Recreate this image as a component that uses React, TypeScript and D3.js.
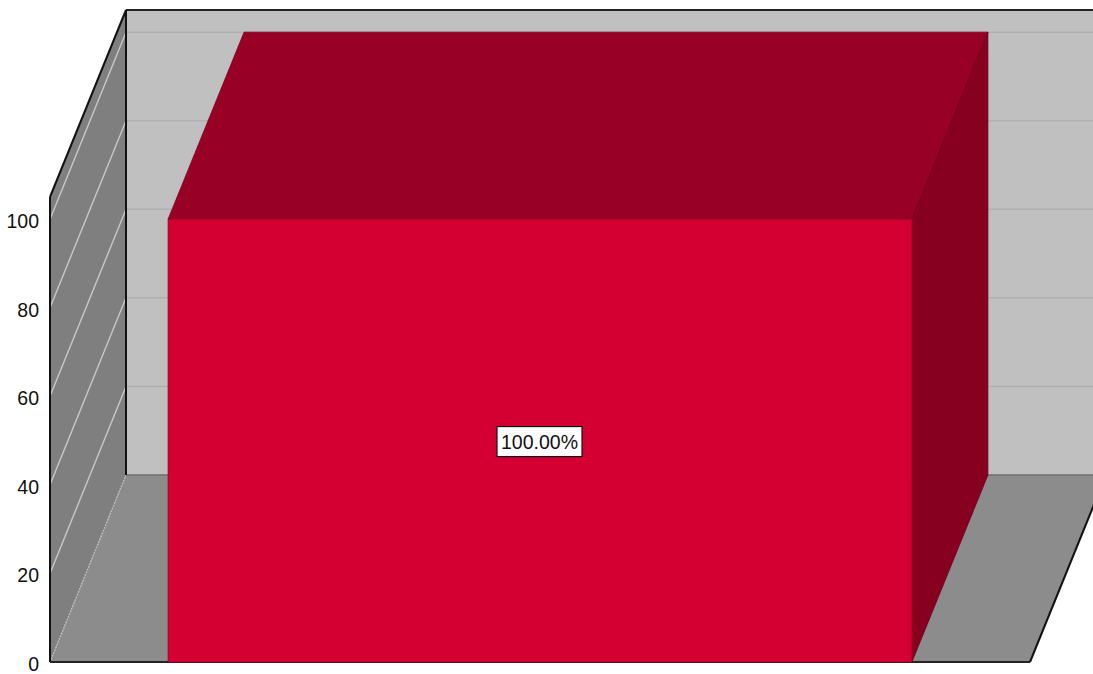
import React from "react";
import * as d3 from "d3";

const categories: string[] = ["A"];
const values: number[] = [100];
const labels: string[] = ["100.00%"];
const yTicks: number[] = [0, 20, 40, 60, 80, 100];

const W = 1093;
const H = 674;

export default function App() {
  const x0 = 50, x1 = 1030;
  const yBottom = 662, yTop = 197;
  const dx = 76, dy = -187;
  const y = d3.scaleLinear().domain([0, 105]).range([yBottom, yTop]);
  const x = d3.scaleBand<string>().domain(categories).range([x0, x1]).paddingInner(0.137).paddingOuter(0.137);
  const pts = (arr: number[][]) => arr.map((p) => p.join(",")).join(" ");

  return (
    <svg width={W} height={H} style={{ position: "absolute", left: 0, top: 0, background: "#fff" }} fontFamily="'Liberation Sans', Arial, sans-serif">
      {/* back wall */}
      <rect x={x0 + dx} y={yTop + dy} width={x1 - x0 + 10} height={yBottom - yTop} fill="#c0c0c0" />
      {yTicks.slice(1).map((t) => (
        <line key={"bg" + t} x1={x0 + dx} x2={x1 + dx + 10} y1={y(t) + dy} y2={y(t) + dy} stroke="#b0b0b0" strokeWidth={1.5} />
      ))}
      {/* left wall */}
      <polygon points={pts([[x0, yTop], [x0 + dx, yTop + dy], [x0 + dx, yBottom + dy], [x0, yBottom]])} fill="#7f7f7f" />
      {yTicks.slice(1).map((t) => (
        <line key={"lw" + t} x1={x0} y1={y(t)} x2={x0 + dx} y2={y(t) + dy} stroke="#c8c8c8" strokeWidth={1.4} />
      ))}
      {/* floor */}
      <polygon points={pts([[x0, yBottom], [x0 + dx, yBottom + dy], [x1 + dx, yBottom + dy], [x1, yBottom]])} fill="#8c8c8c" />
      <line x1={x0} y1={yBottom} x2={x0 + dx} y2={yBottom + dy} stroke="#bdbdbd" strokeWidth={1.5} strokeDasharray="1.5,1.5" />
      <line x1={x0 + dx} y1={yBottom + dy} x2={x1 + dx + 10} y2={yBottom + dy} stroke="#6e6e6e" strokeWidth={1.5} />
      {/* outlines */}
      <line x1={x0 + dx} y1={yTop + dy} x2={x1 + dx + 10} y2={yTop + dy} stroke="#222" strokeWidth={2} />
      <line x1={x0 + dx} y1={yTop + dy} x2={x0 + dx} y2={yBottom + dy} stroke="#111" strokeWidth={2} />
      <line x1={x0} y1={yTop} x2={x0 + dx} y2={yTop + dy} stroke="#111" strokeWidth={2} />
      <line x1={x0} y1={yTop} x2={x0} y2={yBottom} stroke="#111" strokeWidth={2} />
      <line x1={x0} y1={yBottom} x2={x1} y2={yBottom} stroke="#222" strokeWidth={2} />
      <line x1={x1} y1={yBottom} x2={x1 + dx} y2={yBottom + dy} stroke="#111" strokeWidth={2} />
      {/* bars */}
      {categories.map((c, i) => {
        const bx = x(c)!;
        const bw = x.bandwidth();
        const top = y(values[i]);
        const bot = y(0);
        return (
          <g key={c}>
            <polygon points={pts([[bx, top], [bx + dx, top + dy], [bx + bw + dx, top + dy], [bx + bw, top]])} fill="#990026" stroke="#7a001c" strokeWidth={0.8} />
            <polygon points={pts([[bx + bw, top], [bx + bw + dx, top + dy], [bx + bw + dx, bot + dy], [bx + bw, bot]])} fill="#88001f" stroke="#6e0018" strokeWidth={0.8} />
            <rect x={bx} y={top} width={bw} height={bot - top} fill="#d50032" stroke="#9a0024" strokeWidth={0.8} />
            <rect x={bx + bw / 2 - 43} y={(top + bot) / 2 - 14} width={85} height={30} fill="#fff" stroke="#111" strokeWidth={1.2} />
            <text x={bx + bw / 2 - 0.5} y={(top + bot) / 2 + 8} textAnchor="middle" fontSize={19.5} fill="#111">{labels[i]}</text>
          </g>
        );
      })}
      {/* y axis labels */}
      {yTicks.map((t) => (
        <text key={"yl" + t} x={39} y={y(t) + 9} textAnchor="end" fontSize={19.5} fill="#111">{t}</text>
      ))}
    </svg>
  );
}
